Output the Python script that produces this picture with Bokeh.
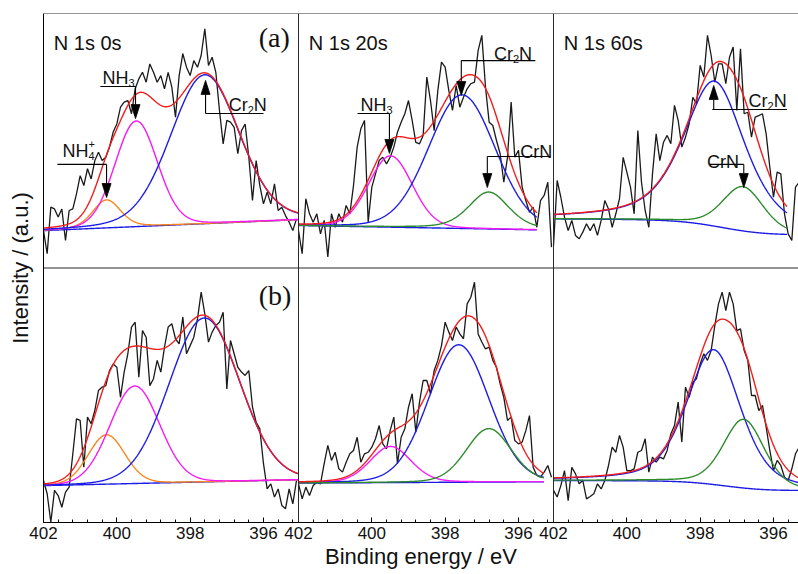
import numpy as np
from bokeh.plotting import figure
from bokeh.models import Range1d, FixedTicker, CustomJSTickFormatter, Span
from bokeh.embed import file_html
from bokeh.resources import INLINE
from bokeh.core.properties import value

# ------------------------------------------------------------------ data
BE_FIRST = 402.0   # binding energy of first spectrum point (eV)
BE_STEP = 0.1      # spectrum step (eV)

# measured N 1s spectra (a.u.); (a) row and (b) row
N1S_A_0S = [14.7, 5.6, 23.9, 23.2, 20.0, 23.2, 10.8, 22.6, 23.2, 29.1,
            36.3, 32.4, 39.0, 35.0, 42.2, 45.5, 42.2, 43.5, 47.5, 53.4,
            56.6, 63.2, 65.2, 65.8, 60.6, 70.4, 74.3, 76.9, 73.0, 80.2,
            76.9, 73.0, 75.6, 70.4, 76.9, 71.1, 59.3, 75.6, 84.2, 78.9,
            75.6, 81.5, 78.9, 83.5, 94.0, 79.6, 82.8, 76.9, 61.9, 48.8,
            58.0, 57.3, 55.3, 44.9, 54.0, 56.6, 43.5, 26.5, 42.2, 32.4,
            25.2, 29.8, 25.2, 33.1, 22.6, 23.9, 20.6, 18.0, 14.7, 19.3]
N1S_A_20S = [14.7, 5.6, 27.2, 21.3, 18.0, 21.3, 13.4, 18.7, 4.3, 21.3,
             16.0, 21.3, 18.0, 24.6, 21.3, 32.4, 47.5, 54.7, 58.0, 18.0,
             31.8, 37.0, 42.2, 43.5, 40.9, 43.5, 47.5, 53.4, 57.3, 60.6,
             65.8, 58.0, 49.4, 48.8, 52.1, 75.0, 65.8, 54.0, 69.7, 80.9,
             78.9, 69.7, 61.9, 71.7, 63.2, 67.1, 70.4, 72.4, 73.0, 85.5,
             91.4, 71.1, 57.3, 56.0, 50.1, 44.9, 33.7, 43.5, 65.2, 43.5,
             46.2, 31.8, 26.5, 21.9, 23.9, 16.0, 26.5, 28.5, 33.7, 8.2]
N1S_A_60S = [8.8, 34.4, 27.8, 20.0, 14.7, 18.7, 12.8, 11.5, 14.1, 17.4,
             14.7, 17.4, 12.8, 18.7, 26.5, 23.2, 16.0, 21.3, 27.2, 43.5,
             37.7, 31.8, 21.3, 54.0, 33.7, 22.6, 16.0, 37.0, 52.7, 42.2,
             49.4, 52.1, 48.8, 63.9, 58.0, 47.5, 51.4, 56.6, 67.1, 64.5,
             79.6, 75.0, 91.4, 83.5, 73.0, 80.2, 80.2, 72.4, 82.8, 86.8,
             61.9, 86.1, 60.6, 61.2, 51.4, 59.3, 59.9, 60.6, 52.7, 39.6,
             27.8, 37.7, 37.0, 21.3, 13.4, 10.8, 31.8, 33.7]
N1S_B_0S = [16.5, 11.3, 0.1, 12.6, 10.6, 6.0, 11.9, 13.9, 27.0, 40.7,
            40.1, 21.7, 41.4, 38.8, 44.0, 51.9, 53.2, 53.8, 59.7, 62.3,
            61.0, 49.2, 59.1, 66.3, 76.8, 78.7, 57.1, 75.4, 72.8, 53.8,
            56.5, 63.7, 59.1, 68.9, 76.8, 78.1, 72.2, 70.2, 80.7, 66.3,
            69.5, 72.8, 80.0, 90.5, 82.0, 70.9, 74.8, 77.4, 78.7, 82.6,
            52.5, 71.5, 66.3, 61.0, 59.1, 57.8, 59.7, 45.3, 39.4, 36.8,
            23.1, 13.2, 15.2, 10.0, 13.2, 6.7, 5.4, 13.2, 7.3, 16.5]
N1S_B_20S = [15.2, 9.3, 13.9, 10.6, 14.5, 15.8, 15.2, 23.1, 30.3, 24.4,
             27.6, 21.1, 19.8, 23.7, 27.0, 28.3, 33.5, 23.7, 27.0, 27.6,
             29.6, 32.9, 38.1, 30.9, 28.9, 36.1, 41.4, 23.1, 33.5, 36.8,
             45.3, 50.6, 35.5, 47.3, 55.8, 55.8, 50.6, 59.7, 63.7, 69.5,
             78.7, 74.8, 71.5, 76.8, 74.1, 72.2, 85.9, 88.5, 94.4, 74.1,
             70.9, 68.2, 68.9, 63.7, 61.0, 54.5, 49.2, 40.1, 41.4, 32.2,
             30.9, 31.6, 36.1, 42.0, 21.7, 18.5, 17.8, 19.8, 22.4, 17.8]
N1S_B_60S = [12.6, 10.0, 14.5, 20.4, 8.6, 21.7, 19.1, 15.2, 16.5, 9.3,
             10.2, 11.3, 15.2, 13.2, 16.5, 22.4, 29.6, 27.6, 34.2, 29.6,
             20.4, 20.4, 21.1, 27.6, 28.3, 32.9, 19.8, 25.7, 23.7, 25.7,
             25.0, 28.3, 34.8, 38.1, 47.3, 31.6, 53.2, 49.2, 55.1, 56.5,
             62.3, 66.3, 63.7, 67.6, 77.4, 85.9, 90.5, 83.3, 90.5, 85.9,
             75.4, 76.1, 67.6, 63.7, 49.9, 49.9, 44.0, 46.0, 37.5, 28.3,
             20.4, 24.4, 22.4, 17.8, 16.5, 21.1, 27.0, 29.6]

PANEL_TITLES = ["N 1s 0s", "N 1s 20s", "N 1s 60s"]
ROW_TAGS = ["(a)", "(b)"]
TICK_BE = [402, 400, 398, 396]

# fitted background per panel (order: a-0s, a-20s, a-60s, b-0s, b-20s, b-60s)
FIT_END = [395.05, 395.50, 395.63, 395.05, 395.31, 395.32]
BG_KIND = ["linear", "linear", "shirley", "linear", "linear", "shirley"]
BG_LEFT = [14.7, 16.7, 19.3, 14.5, 15.5, 16.5]
BG_RIGHT = [19.0, 15.0, 13.2, 16.8, 16.0, 12.6]

# fitted components (centre eV, height a.u., FWHM eV, Lorentzian fraction)
SPECIES_A_0S = ["NH4+", "NH3", "Cr2N"]
CEN_A_0S = [400.28, 399.47, 397.60]
AMP_A_0S = [11.0, 41.5, 58.5]
FWHM_A_0S = [0.90, 1.36, 2.20]
LOR_A_0S = [0.30, 0.10, 0.15]

SPECIES_A_20S = ["NH3", "Cr2N", "CrN"]
CEN_A_20S = [399.49, 397.54, 396.81]
AMP_A_20S = [28.0, 52.5, 14.5]
FWHM_A_20S = [1.40, 2.14, 1.30]
LOR_A_20S = [0.10, 0.10, 0.40]

SPECIES_A_60S = ["Cr2N", "CrN"]
CEN_A_60S = [397.61, 396.83]
AMP_A_60S = [57.0, 17.4]
FWHM_A_60S = [2.00, 1.32]
LOR_A_60S = [0.60, 0.30]

SPECIES_B_0S = ["NH4+", "NH3", "Cr2N"]
CEN_B_0S = [400.28, 399.51, 397.61]
AMP_B_0S = [19.4, 38.3, 64.4]
FWHM_B_0S = [1.18, 1.59, 2.27]
LOR_B_0S = [0.10, 0.05, 0.05]

SPECIES_B_20S = ["NH3", "Cr2N", "CrN"]
CEN_B_20S = [399.49, 397.63, 396.81]
AMP_B_20S = [14.2, 54.0, 21.0]
FWHM_B_20S = [1.32, 1.95, 1.45]
LOR_B_20S = [0.20, 0.10, 0.15]

SPECIES_B_60S = ["Cr2N", "CrN"]
CEN_B_60S = [397.63, 396.81]
AMP_B_60S = [53.0, 27.0]
FWHM_B_60S = [1.73, 1.32]
LOR_B_60S = [0.45, 0.30]

# ------------------------------------------------------------------ styles
COLORS = {"NH4+": "#f7861f", "NH3": "#f618f6", "Cr2N": "#1c1ce6",
          "CrN": "#2b8a2b", "bg": "#1c1ce6", "env": "#f21c1c", "raw": "#1a1a1a"}
SANS = "Liberation Sans"
SERIF = "Liberation Serif"

SPECTRA = [N1S_A_0S, N1S_A_20S, N1S_A_60S, N1S_B_0S, N1S_B_20S, N1S_B_60S]
FITS = [
    (SPECIES_A_0S, CEN_A_0S, AMP_A_0S, FWHM_A_0S, LOR_A_0S),
    (SPECIES_A_20S, CEN_A_20S, AMP_A_20S, FWHM_A_20S, LOR_A_20S),
    (SPECIES_A_60S, CEN_A_60S, AMP_A_60S, FWHM_A_60S, LOR_A_60S),
    (SPECIES_B_0S, CEN_B_0S, AMP_B_0S, FWHM_B_0S, LOR_B_0S),
    (SPECIES_B_20S, CEN_B_20S, AMP_B_20S, FWHM_B_20S, LOR_B_20S),
    (SPECIES_B_60S, CEN_B_60S, AMP_B_60S, FWHM_B_60S, LOR_B_60S),
]

# ------------------------------------------------------------------ geometry
S = 6.955                  # eV shown per panel
X_END = S * 755.0 / 255.0  # third panel is cut at the window edge
PX_X = 255.0 / S           # px per eV
PX_Y = 254.5 / 100.0       # px per intensity unit


def xp(col, be):
    return col * S + (402.0 - np.asarray(be, dtype=float))


def yp(row, v):
    return np.asarray(v, dtype=float) + (100.0 if row == 0 else 0.0)


def gl(e, c, h, w, m):
    t = (e - c) / w
    return h * ((1 - m) * np.exp(-4 * np.log(2) * t * t) + m / (1 + 4 * t * t))


p = figure(width=798, height=574, x_range=Range1d(0, X_END), y_range=Range1d(0, 200),
           output_backend="svg", toolbar_location=None,
           min_border_left=43, min_border_right=0, min_border_top=13, min_border_bottom=52,
           background_fill_color="white", border_fill_color="white",
           outline_line_color=None)
p.xgrid.visible = False
p.ygrid.visible = False

# ---------------- spectra and fits
for idx in range(6):
    col, row = idx % 3, idx // 3
    vals = SPECTRA[idx]
    be = BE_FIRST - BE_STEP * np.arange(len(vals))
    p.line(xp(col, be), yp(row, vals), line_color=COLORS["raw"], line_width=1.3)

    species, cen, amp, fwhm, lor = FITS[idx]
    e = np.linspace(402.0, FIT_END[idx], 500)
    comps = [gl(e, c, h, w, m) for c, h, w, m in zip(cen, amp, fwhm, lor)]
    total = np.sum(comps, axis=0)
    if BG_KIND[idx] == "linear":
        bg = BG_LEFT[idx] + (BG_RIGHT[idx] - BG_LEFT[idx]) * (402.0 - e) / (402.0 - FIT_END[idx])
    else:
        seg = np.abs(np.diff(e))
        part = (total[1:] + total[:-1]) / 2 * seg
        area = np.concatenate([np.cumsum(part[::-1])[::-1], [0.0]])
        bg = BG_RIGHT[idx] + (BG_LEFT[idx] - BG_RIGHT[idx]) * area / area[0]
    p.line(xp(col, e), yp(row, bg), line_color=COLORS["bg"], line_width=1.4)
    for sp, cp in zip(species, comps):
        p.line(xp(col, e), yp(row, bg + cp), line_color=COLORS[sp], line_width=1.4)
    p.line(xp(col, e), yp(row, bg + total), line_color=COLORS["env"], line_width=1.4)

# ---------------- annotations (panel, stem BE, line v, tip v, line from, line to, text BE, text v, parts)
ANNOT = [
    (0, 399.49, 71.3, 58.7, 400.45, 399.49, 400.39, 74.8, [("NH", 0), ("3", -1)]),
    (0, 400.28, 40.7, 27.7, 401.62, 400.28, 401.48, 46.0, [("NH", 0), ("4", -1), ("+", 1)]),
    (0, 397.58, 60.7, 73.7, 397.58, 396.00, 396.95, 64.2, [("Cr", 0), ("2", -1), ("N", 0)]),
    (1, 399.52, 60.7, 45.0, 400.39, 399.52, 400.31, 63.9, [("NH", 0), ("3", -1)]),
    (1, 397.56, 81.5, 67.8, 397.56, 395.54, 396.67, 84.2, [("Cr", 0), ("2", -1), ("N", 0)]),
    (1, 396.85, 43.8, 31.6, 396.85, 395.13, 395.95, 45.5, [("CrN", 0)]),
    (2, 397.63, 62.3, 71.7, 397.67, 395.63, 396.68, 65.8, [("Cr", 0), ("2", -1), ("N", 0)]),
    (2, 396.81, 40.7, 31.6, 397.76, 396.81, 397.81, 41.8, [("CrN", 0)]),
]
WID = {"N": 0.722, "H": 0.722, "C": 0.722, "r": 0.333, "2": 0.556, "3": 0.556,
       "4": 0.556, "+": 0.584}
MAIN_FS, SUB_FS = 18, 11
HEAD_L, HEAD_W = 14.0, 9.0

pieces = {MAIN_FS: dict(x=[], y=[], text=[], xo=[], yo=[]),
          SUB_FS: dict(x=[], y=[], text=[], xo=[], yo=[])}
for idx, sx, lv, tv, l0, l1, tx, tv_txt, parts in ANNOT:
    col, row = idx % 3, idx // 3
    X = float(xp(col, sx))
    p.segment(x0=[float(xp(col, l0))], y0=[float(yp(row, lv))], x1=[float(xp(col, l1))],
              y1=[float(yp(row, lv))], line_color="black", line_width=1.1)
    sign = -1.0 if tv < lv else 1.0
    base = tv - sign * HEAD_L / PX_Y
    p.segment(x0=[X], y0=[float(yp(row, lv))], x1=[X], y1=[float(yp(row, base))],
              line_color="black", line_width=1.1)
    hw = HEAD_W / 2 / PX_X
    p.patch(x=[X, X - hw, X + hw], y=[float(yp(row, tv)), float(yp(row, base)), float(yp(row, base))],
            fill_color="black", line_color="black", line_width=0.8)
    cur, last = 0.0, 0.0
    for txt, kind in parts:
        fs = MAIN_FS if kind == 0 else SUB_FS
        start = last if kind == 1 else cur
        dy = {0: 0, -1: 5, 1: -7}[kind]
        d = pieces[fs]
        d["x"].append(float(xp(col, tx)))
        d["y"].append(float(yp(row, tv_txt)))
        d["text"].append(txt)
        d["xo"].append(start)
        d["yo"].append(dy)
        if kind != 1:
            last = start
            cur = start + sum(WID[ch] for ch in txt) * fs

for fs, d in pieces.items():
    p.text(x=d["x"], y=d["y"], text=d["text"], x_offset=d["xo"], y_offset=d["yo"],
           text_font=value(SANS), text_font_size=f"{fs}px", text_color="#111111",
           text_baseline="alphabetic", text_align="left")

# panel titles and row tags
p.text(x=[float(xp(c, 401.72)) for c in range(3)], y=[float(yp(0, 88.5))] * 3, text=PANEL_TITLES,
       text_font=value(SANS), text_font_size="20px", text_color="#111111",
       text_baseline="alphabetic", text_align="left")
p.text(x=[float(xp(0, 396.13)), float(xp(0, 396.13))], y=[float(yp(0, 90.6)), float(yp(1, 89.0))],
       text=ROW_TAGS, text_font=value(SERIF), text_font_size="28px", text_color="#111111",
       text_baseline="alphabetic", text_align="left")

# ---------------- frame lines
for loc in (S, 2 * S):
    p.add_layout(Span(location=loc, dimension="height", line_color="#2a2a2a", line_width=1))
p.add_layout(Span(location=100, dimension="width", line_color="#2a2a2a", line_width=1))
p.add_layout(Span(location=200, dimension="width", line_color="#2a2a2a", line_width=1))

# ---------------- axes
major = [c * S + (402 - t) for c in range(3) for t in TICK_BE]
minor = [c * S + k * 0.4 for c in range(3) for k in range(18) if c * S + k * 0.4 <= X_END]
xa = p.xaxis[0]
xa.ticker = FixedTicker(ticks=major, minor_ticks=minor)
xa.formatter = CustomJSTickFormatter(args=dict(S=S), code="""
    const c = Math.floor((tick + 1e-6) / S);
    return String(Math.round(402 - (tick - c * S)));
""")
xa.major_tick_in = 5
xa.major_tick_out = 0
xa.minor_tick_in = 3
xa.minor_tick_out = 0
xa.axis_line_color = "black"
xa.major_tick_line_color = "black"
xa.minor_tick_line_color = "black"
xa.major_label_text_font = SANS
xa.major_label_text_font_size = "17px"
xa.major_label_text_color = "#111111"
xa.major_label_standoff = 4
xa.axis_label = "Binding energy / eV"
xa.axis_label_text_font = SANS
xa.axis_label_text_font_size = "22px"
xa.axis_label_text_font_style = "normal"
xa.axis_label_text_color = "#111111"
xa.axis_label_standoff = 2

ya = p.yaxis[0]
ya.ticker = FixedTicker(ticks=[])
ya.major_tick_in = 0
ya.major_tick_out = 0
ya.minor_tick_in = 0
ya.minor_tick_out = 0
ya.major_label_standoff = 0
ya.axis_line_color = "black"
ya.axis_label = "Intensity / (a.u.)"
ya.axis_label_text_font = SANS
ya.axis_label_text_font_size = "22px"
ya.axis_label_text_font_style = "normal"
ya.axis_label_text_color = "#111111"
ya.axis_label_standoff = 11

open("out.html", "w").write(file_html(p, INLINE))
